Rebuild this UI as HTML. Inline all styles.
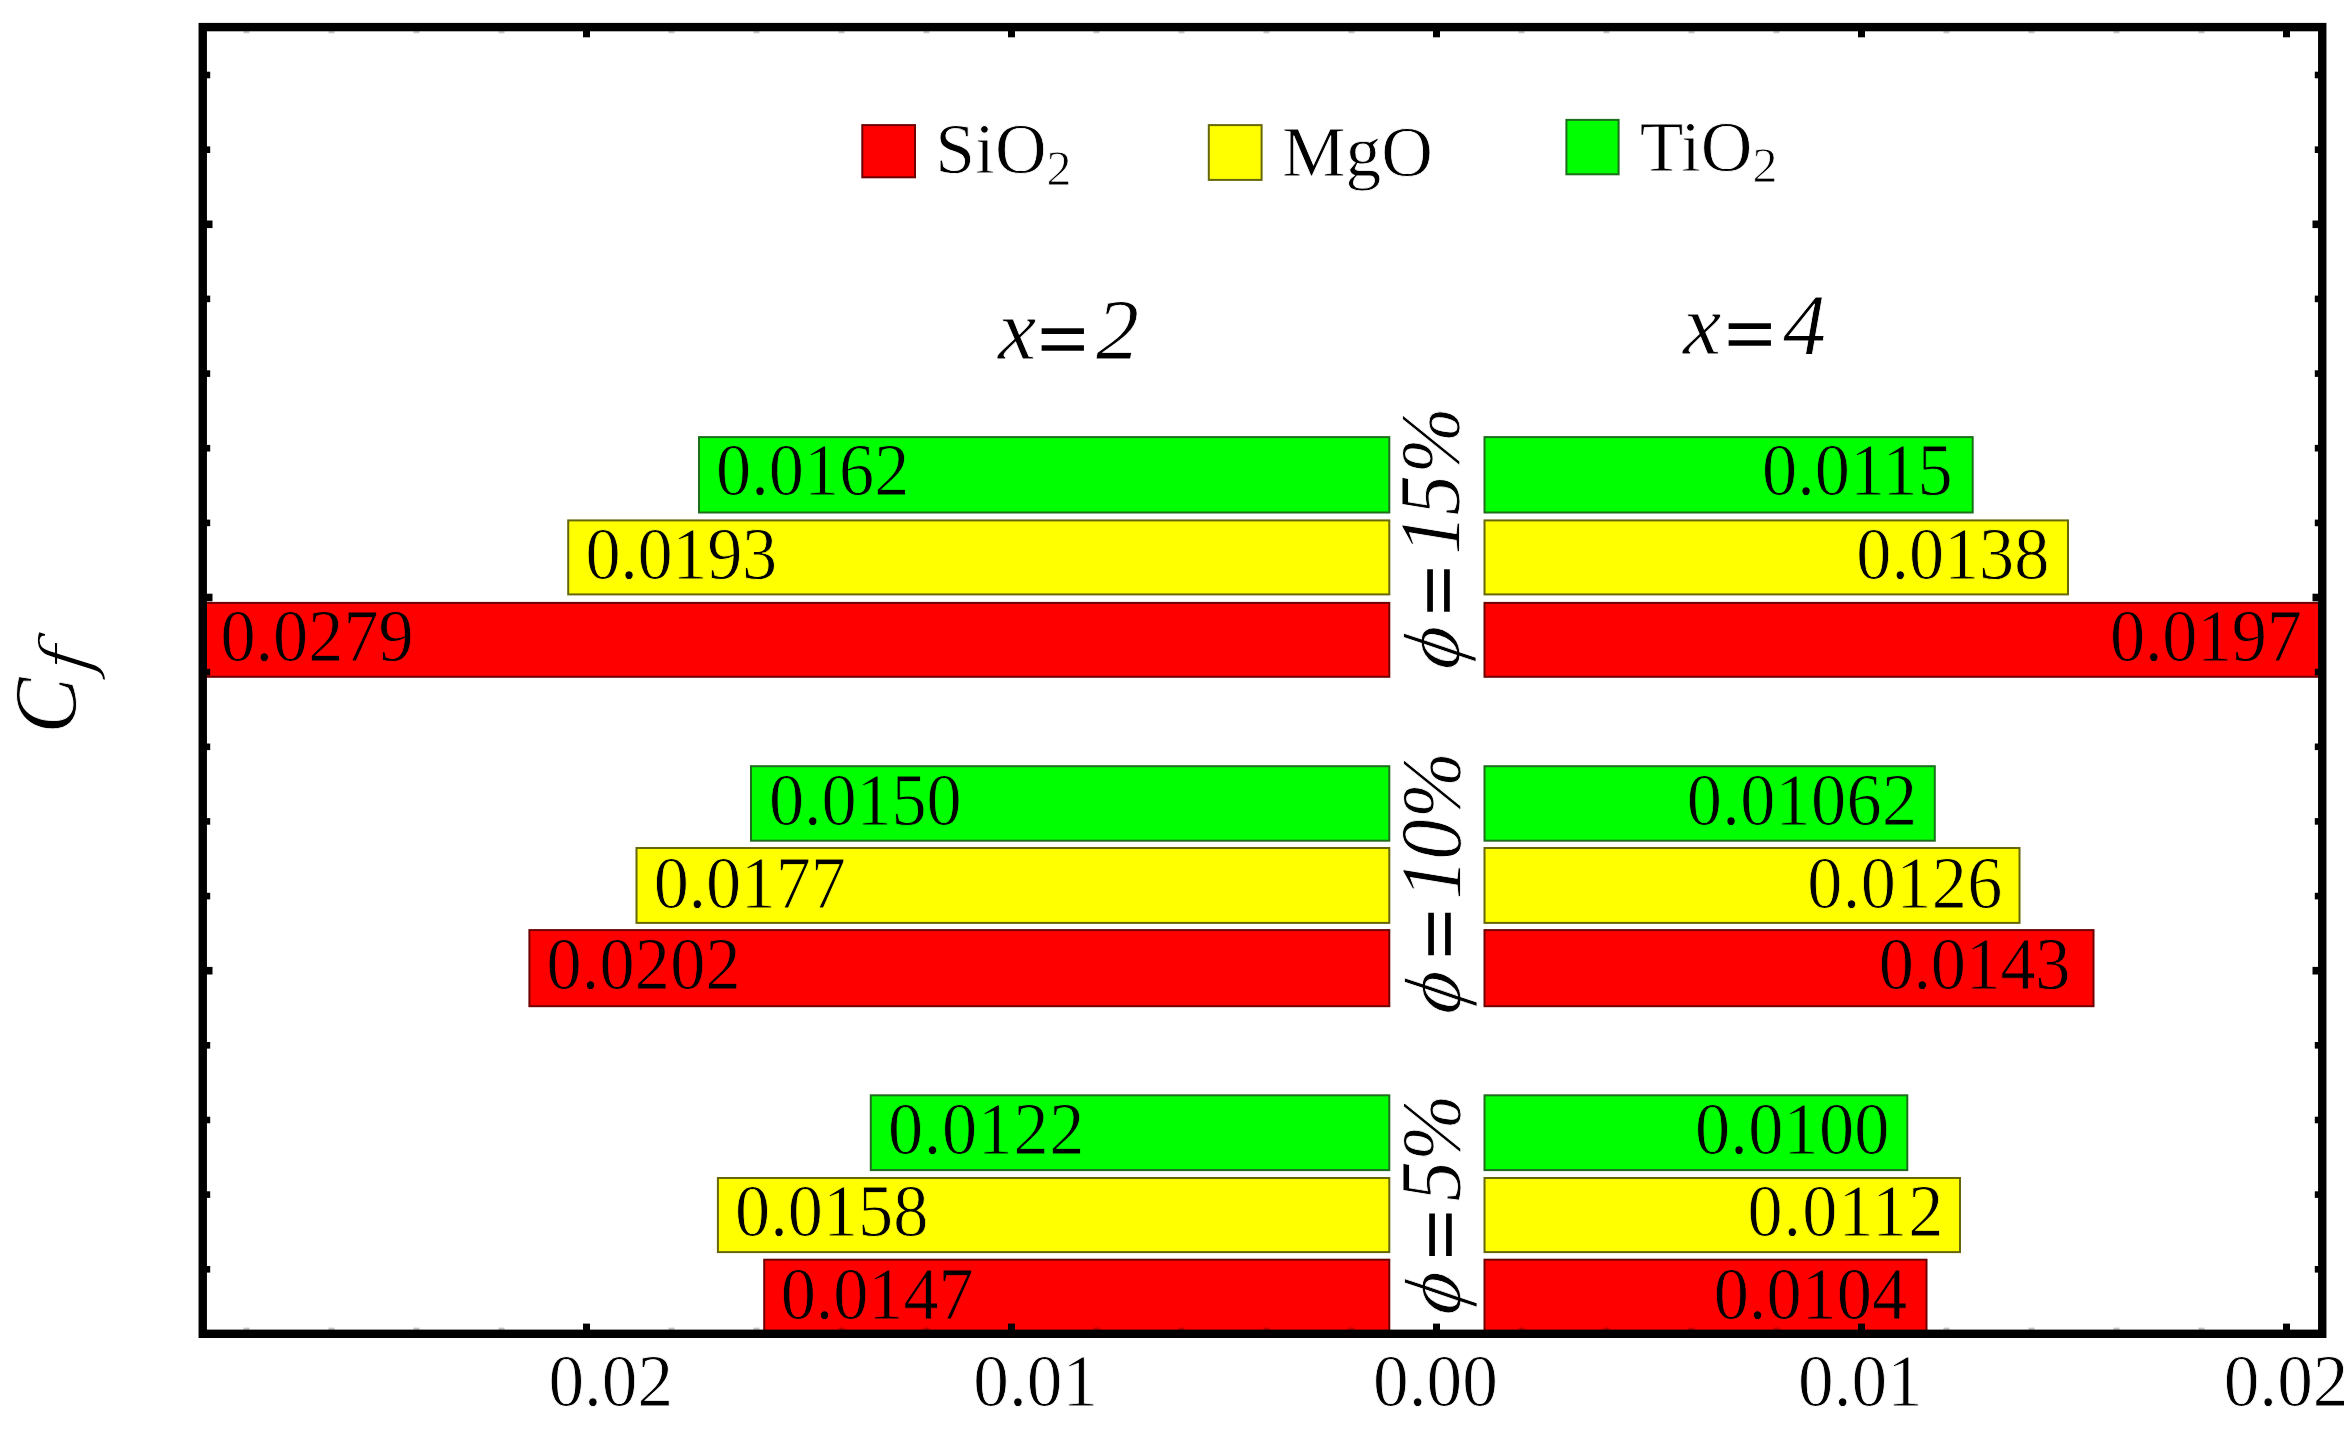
<!DOCTYPE html>
<html lang="en"><head><meta charset="utf-8"><title>Skin friction coefficient chart</title>
<style>
html,body{margin:0;padding:0;background:#fff;}
body{width:2344px;height:1432px;overflow:hidden;}
svg{display:block;}
text{font-family:"Liberation Serif","DejaVu Serif",serif;fill:#000;}
.n{font-size:70.3px;}
.i{font-style:italic;}
.w{stroke:#fff;stroke-width:0.8px;}
</style></head><body>
<svg width="2344" height="1432" viewBox="0 0 2344 1432">
<rect x="0" y="0" width="2344" height="1432" fill="#fff"/>
<defs><clipPath id="plot"><rect x="203" y="27" width="2119" height="1307"/></clipPath></defs>
<g clip-path="url(#plot)">
<rect x="699.0" y="437.1" width="690.3" height="75.4" fill="#00ff00" stroke="#1c6e1c" stroke-width="2.0"/>
<rect x="1484.5" y="437.1" width="488.2" height="75.4" fill="#00ff00" stroke="#1c6e1c" stroke-width="2.0"/>
<rect x="568.2" y="520.4" width="821.1" height="74.0" fill="#ffff00" stroke="#66660a" stroke-width="2.0"/>
<rect x="1484.5" y="520.4" width="583.5" height="74.0" fill="#ffff00" stroke="#66660a" stroke-width="2.0"/>
<rect x="151.0" y="602.9" width="1238.3" height="73.9" fill="#ff0000" stroke="#6e0000" stroke-width="2.0"/>
<rect x="1484.5" y="602.9" width="914.5" height="73.9" fill="#ff0000" stroke="#6e0000" stroke-width="2.0"/>
<rect x="751.0" y="766.2" width="638.3" height="74.5" fill="#00ff00" stroke="#1c6e1c" stroke-width="2.0"/>
<rect x="1484.5" y="766.2" width="450.3" height="74.5" fill="#00ff00" stroke="#1c6e1c" stroke-width="2.0"/>
<rect x="636.5" y="848.0" width="752.8" height="74.9" fill="#ffff00" stroke="#66660a" stroke-width="2.0"/>
<rect x="1484.5" y="848.0" width="535.0" height="74.9" fill="#ffff00" stroke="#66660a" stroke-width="2.0"/>
<rect x="529.4" y="930.1" width="859.9" height="76.1" fill="#ff0000" stroke="#6e0000" stroke-width="2.0"/>
<rect x="1484.5" y="930.1" width="609.0" height="76.1" fill="#ff0000" stroke="#6e0000" stroke-width="2.0"/>
<rect x="870.8" y="1095.3" width="518.5" height="74.8" fill="#00ff00" stroke="#1c6e1c" stroke-width="2.0"/>
<rect x="1484.5" y="1095.3" width="422.8" height="74.8" fill="#00ff00" stroke="#1c6e1c" stroke-width="2.0"/>
<rect x="717.9" y="1178.0" width="671.4" height="74.1" fill="#ffff00" stroke="#66660a" stroke-width="2.0"/>
<rect x="1484.5" y="1178.0" width="475.5" height="74.1" fill="#ffff00" stroke="#66660a" stroke-width="2.0"/>
<rect x="764.2" y="1259.7" width="625.1" height="75.0" fill="#ff0000" stroke="#6e0000" stroke-width="2.0"/>
<rect x="1484.5" y="1259.7" width="442.0" height="75.0" fill="#ff0000" stroke="#6e0000" stroke-width="2.0"/>
</g>
<text class="n" transform="translate(716.1 495.4) scale(1 1.045)" textLength="193.3" stroke="#00ff00" stroke-width="0.8">0.0162</text>
<text class="n" transform="translate(1952.7 495.4) scale(1 1.045)" text-anchor="end" stroke="#00ff00" stroke-width="0.8">0.0115</text>
<text class="n" transform="translate(585.4 579.4) scale(1 1.045)" textLength="191.7" stroke="#ffff00" stroke-width="0.8">0.0193</text>
<text class="n" transform="translate(2049.3 579.4) scale(1 1.045)" text-anchor="end" textLength="193.0" stroke="#ffff00" stroke-width="0.8">0.0138</text>
<text class="n" transform="translate(220.4 661.2) scale(1 1.045)" stroke="#ff0000" stroke-width="0.8">0.0279</text>
<text class="n" transform="translate(2301.8 661.2) scale(1 1.045)" text-anchor="end" textLength="191.7" stroke="#ff0000" stroke-width="0.8">0.0197</text>
<text class="n" transform="translate(768.9 825.2) scale(1 1.045)" textLength="192.8" stroke="#00ff00" stroke-width="0.8">0.0150</text>
<text class="n" transform="translate(1917.1 825.2) scale(1 1.045)" text-anchor="end" textLength="230.3" stroke="#00ff00" stroke-width="0.8">0.01062</text>
<text class="n" transform="translate(653.7 907.8) scale(1 1.045)" textLength="192.1" stroke="#ffff00" stroke-width="0.8">0.0177</text>
<text class="n" transform="translate(2002.3 907.8) scale(1 1.045)" text-anchor="end" textLength="195.0" stroke="#ffff00" stroke-width="0.8">0.0126</text>
<text class="n" transform="translate(546.4 989.2) scale(1 1.045)" textLength="194.2" stroke="#ff0000" stroke-width="0.8">0.0202</text>
<text class="n" transform="translate(2070.5 989.2) scale(1 1.045)" text-anchor="end" textLength="191.8" stroke="#ff0000" stroke-width="0.8">0.0143</text>
<text class="n" transform="translate(888.1 1153.7) scale(1 1.045)" textLength="196.2" stroke="#00ff00" stroke-width="0.8">0.0122</text>
<text class="n" transform="translate(1889.5 1153.7) scale(1 1.045)" text-anchor="end" textLength="194.6" stroke="#00ff00" stroke-width="0.8">0.0100</text>
<text class="n" transform="translate(735.1 1236.4) scale(1 1.045)" textLength="193.3" stroke="#ffff00" stroke-width="0.8">0.0158</text>
<text class="n" transform="translate(1943.3 1236.4) scale(1 1.045)" text-anchor="end" textLength="195.9" stroke="#ffff00" stroke-width="0.8">0.0112</text>
<text class="n" transform="translate(780.8 1318.9) scale(1 1.045)" textLength="192.8" stroke="#ff0000" stroke-width="0.8">0.0147</text>
<text class="n" transform="translate(1907.1 1318.9) scale(1 1.045)" text-anchor="end" textLength="193.4" stroke="#ff0000" stroke-width="0.8">0.0104</text>
<rect x="202.75" y="27.1" width="2119.5" height="1306.7" fill="none" stroke="#000" stroke-width="8.4"/>
<rect x="243.5" y="1327.6" width="6" height="3" fill="#000" opacity="0.22"/>
<rect x="243.5" y="30.3" width="6" height="3" fill="#000" opacity="0.22"/>
<rect x="328.5" y="1327.6" width="6" height="3" fill="#000" opacity="0.22"/>
<rect x="328.5" y="30.3" width="6" height="3" fill="#000" opacity="0.22"/>
<rect x="413.5" y="1327.6" width="6" height="3" fill="#000" opacity="0.22"/>
<rect x="413.5" y="30.3" width="6" height="3" fill="#000" opacity="0.22"/>
<rect x="498.5" y="1327.6" width="6" height="3" fill="#000" opacity="0.22"/>
<rect x="498.5" y="30.3" width="6" height="3" fill="#000" opacity="0.22"/>
<rect x="583.0" y="1323.6" width="7" height="7" fill="#000" opacity="1"/>
<rect x="583.0" y="30.3" width="7" height="7" fill="#000" opacity="1"/>
<rect x="668.5" y="1327.6" width="6" height="3" fill="#000" opacity="0.22"/>
<rect x="668.5" y="30.3" width="6" height="3" fill="#000" opacity="0.22"/>
<rect x="753.5" y="1327.6" width="6" height="3" fill="#000" opacity="0.22"/>
<rect x="753.5" y="30.3" width="6" height="3" fill="#000" opacity="0.22"/>
<rect x="838.5" y="1327.6" width="6" height="3" fill="#000" opacity="0.22"/>
<rect x="838.5" y="30.3" width="6" height="3" fill="#000" opacity="0.22"/>
<rect x="923.5" y="1327.6" width="6" height="3" fill="#000" opacity="0.22"/>
<rect x="923.5" y="30.3" width="6" height="3" fill="#000" opacity="0.22"/>
<rect x="1008.0" y="1323.6" width="7" height="7" fill="#000" opacity="1"/>
<rect x="1008.0" y="30.3" width="7" height="7" fill="#000" opacity="1"/>
<rect x="1093.5" y="1327.6" width="6" height="3" fill="#000" opacity="0.22"/>
<rect x="1093.5" y="30.3" width="6" height="3" fill="#000" opacity="0.22"/>
<rect x="1178.5" y="1327.6" width="6" height="3" fill="#000" opacity="0.22"/>
<rect x="1178.5" y="30.3" width="6" height="3" fill="#000" opacity="0.22"/>
<rect x="1263.5" y="1327.6" width="6" height="3" fill="#000" opacity="0.22"/>
<rect x="1263.5" y="30.3" width="6" height="3" fill="#000" opacity="0.22"/>
<rect x="1348.5" y="1327.6" width="6" height="3" fill="#000" opacity="0.22"/>
<rect x="1348.5" y="30.3" width="6" height="3" fill="#000" opacity="0.22"/>
<rect x="1433.0" y="1323.6" width="7" height="7" fill="#000" opacity="1"/>
<rect x="1433.0" y="30.3" width="7" height="7" fill="#000" opacity="1"/>
<rect x="1518.5" y="1327.6" width="6" height="3" fill="#000" opacity="0.22"/>
<rect x="1518.5" y="30.3" width="6" height="3" fill="#000" opacity="0.22"/>
<rect x="1603.5" y="1327.6" width="6" height="3" fill="#000" opacity="0.22"/>
<rect x="1603.5" y="30.3" width="6" height="3" fill="#000" opacity="0.22"/>
<rect x="1688.5" y="1327.6" width="6" height="3" fill="#000" opacity="0.22"/>
<rect x="1688.5" y="30.3" width="6" height="3" fill="#000" opacity="0.22"/>
<rect x="1773.5" y="1327.6" width="6" height="3" fill="#000" opacity="0.22"/>
<rect x="1773.5" y="30.3" width="6" height="3" fill="#000" opacity="0.22"/>
<rect x="1858.0" y="1323.6" width="7" height="7" fill="#000" opacity="1"/>
<rect x="1858.0" y="30.3" width="7" height="7" fill="#000" opacity="1"/>
<rect x="1943.5" y="1327.6" width="6" height="3" fill="#000" opacity="0.22"/>
<rect x="1943.5" y="30.3" width="6" height="3" fill="#000" opacity="0.22"/>
<rect x="2028.5" y="1327.6" width="6" height="3" fill="#000" opacity="0.22"/>
<rect x="2028.5" y="30.3" width="6" height="3" fill="#000" opacity="0.22"/>
<rect x="2113.5" y="1327.6" width="6" height="3" fill="#000" opacity="0.22"/>
<rect x="2113.5" y="30.3" width="6" height="3" fill="#000" opacity="0.22"/>
<rect x="2198.5" y="1327.6" width="6" height="3" fill="#000" opacity="0.22"/>
<rect x="2198.5" y="30.3" width="6" height="3" fill="#000" opacity="0.22"/>
<rect x="2283.0" y="1323.6" width="7" height="7" fill="#000" opacity="1"/>
<rect x="2283.0" y="30.3" width="7" height="7" fill="#000" opacity="1"/>
<rect x="206.0" y="71.7" width="4.2" height="6.6" fill="#000"/>
<rect x="2314.8" y="71.7" width="4.2" height="6.6" fill="#000"/>
<rect x="206.0" y="146.4" width="4.2" height="6.6" fill="#000"/>
<rect x="2314.8" y="146.4" width="4.2" height="6.6" fill="#000"/>
<rect x="206.0" y="220.5" width="6.5" height="7.6" fill="#000"/>
<rect x="2312.5" y="220.5" width="6.5" height="7.6" fill="#000"/>
<rect x="206.0" y="295.6" width="4.2" height="6.6" fill="#000"/>
<rect x="2314.8" y="295.6" width="4.2" height="6.6" fill="#000"/>
<rect x="206.0" y="370.3" width="4.2" height="6.6" fill="#000"/>
<rect x="2314.8" y="370.3" width="4.2" height="6.6" fill="#000"/>
<rect x="206.0" y="444.9" width="4.2" height="6.6" fill="#000"/>
<rect x="2314.8" y="444.9" width="4.2" height="6.6" fill="#000"/>
<rect x="206.0" y="519.6" width="4.2" height="6.6" fill="#000"/>
<rect x="2314.8" y="519.6" width="4.2" height="6.6" fill="#000"/>
<rect x="206.0" y="593.7" width="6.5" height="7.6" fill="#000"/>
<rect x="2312.5" y="593.7" width="6.5" height="7.6" fill="#000"/>
<rect x="206.0" y="668.8" width="4.2" height="6.6" fill="#000"/>
<rect x="2314.8" y="668.8" width="4.2" height="6.6" fill="#000"/>
<rect x="206.0" y="743.5" width="4.2" height="6.6" fill="#000"/>
<rect x="2314.8" y="743.5" width="4.2" height="6.6" fill="#000"/>
<rect x="206.0" y="818.1" width="4.2" height="6.6" fill="#000"/>
<rect x="2314.8" y="818.1" width="4.2" height="6.6" fill="#000"/>
<rect x="206.0" y="892.8" width="4.2" height="6.6" fill="#000"/>
<rect x="2314.8" y="892.8" width="4.2" height="6.6" fill="#000"/>
<rect x="206.0" y="966.9" width="6.5" height="7.6" fill="#000"/>
<rect x="2312.5" y="966.9" width="6.5" height="7.6" fill="#000"/>
<rect x="206.0" y="1042.0" width="4.2" height="6.6" fill="#000"/>
<rect x="2314.8" y="1042.0" width="4.2" height="6.6" fill="#000"/>
<rect x="206.0" y="1116.7" width="4.2" height="6.6" fill="#000"/>
<rect x="2314.8" y="1116.7" width="4.2" height="6.6" fill="#000"/>
<rect x="206.0" y="1191.3" width="4.2" height="6.6" fill="#000"/>
<rect x="2314.8" y="1191.3" width="4.2" height="6.6" fill="#000"/>
<rect x="206.0" y="1266.0" width="4.2" height="6.6" fill="#000"/>
<rect x="2314.8" y="1266.0" width="4.2" height="6.6" fill="#000"/>
<text class="w" transform="translate(548.4 1406.2) scale(1 1.045)" font-size="71.3">0.02</text>
<text class="w" transform="translate(973.3 1406.2) scale(1 1.045)" font-size="71.3">0.01</text>
<text class="w" transform="translate(1373.1 1406.2) scale(1 1.045)" font-size="71.3">0.00</text>
<text class="w" transform="translate(1798.0 1406.2) scale(1 1.045)" font-size="71.3">0.01</text>
<text class="w" transform="translate(2223.7 1406.2) scale(1 1.045)" font-size="71.3">0.02</text>
<rect x="862.3" y="125.1" width="52.7" height="52.2" fill="#ff0000" stroke="#6e0000" stroke-width="2"/>
<rect x="1208.8" y="125.1" width="52.8" height="54.8" fill="#ffff00" stroke="#66660a" stroke-width="2"/>
<rect x="1566.4" y="119.9" width="52.2" height="54.4" fill="#00ff00" stroke="#1c6e1c" stroke-width="2"/>
<text class="w" x="935.3" y="173.4" font-size="71.5">SiO<tspan dy="11.1" font-size="50">2</tspan></text>
<text class="w" x="1282.0" y="175.8" font-size="71.5">MgO</text>
<text class="w" x="1639.8" y="170.8" font-size="71.5">TiO<tspan dy="10.7" font-size="50">2</tspan></text>
<text class="i w" font-size="86" y="358.7"><tspan x="998.1">x</tspan><tspan x="1032.5" dy="8.00" font-size="82" textLength="59.0" lengthAdjust="spacingAndGlyphs" stroke="#000" stroke-width="1.5">=</tspan><tspan x="1096.0" dy="-8.0">2</tspan></text>
<text class="i w" font-size="86" y="353.5"><tspan x="1682.9">x</tspan><tspan x="1719.6" dy="8.00" font-size="82" textLength="59.0" lengthAdjust="spacingAndGlyphs" stroke="#000" stroke-width="1.5">=</tspan><tspan x="1783.1" dy="-8.0">4</tspan></text>
<text class="i w" font-size="80" transform="translate(1458.6 671.3) rotate(-90) skewX(-9)">ϕ</text>
<text class="i w" transform="translate(1458.6 620.7) rotate(-90) scale(1 1.065)"><tspan x="0.0" dy="7.35" font-size="77" textLength="59.0" lengthAdjust="spacingAndGlyphs" stroke="#000" stroke-width="1.5">=</tspan><tspan x="66.0" dy="-7.35" font-size="81">1</tspan><tspan x="105.3" dy="0.00" font-size="81">5</tspan><tspan x="147.1" dy="0.00" font-size="79.5">%</tspan></text>
<text class="i w" font-size="80" transform="translate(1459.6 1016.0) rotate(-90) skewX(-9)">ϕ</text>
<text class="i w" transform="translate(1459.6 964.3) rotate(-90) scale(1 1.065)"><tspan x="0.0" dy="7.35" font-size="77" textLength="59.0" lengthAdjust="spacingAndGlyphs" stroke="#000" stroke-width="1.5">=</tspan><tspan x="64.9" dy="-7.35" font-size="81">1</tspan><tspan x="104.5" dy="0.00" font-size="81">0</tspan><tspan x="146.0" dy="0.00" font-size="79.5">%</tspan></text>
<text class="i w" font-size="80" transform="translate(1459.8 1316.7) rotate(-90) skewX(-9)">ϕ</text>
<text class="i w" transform="translate(1459.8 1265.0) rotate(-90) scale(1 1.065)"><tspan x="0.0" dy="7.35" font-size="77" textLength="59.0" lengthAdjust="spacingAndGlyphs" stroke="#000" stroke-width="1.5">=</tspan><tspan x="63.4" dy="-7.35" font-size="81">5</tspan><tspan x="104.2" dy="0.00" font-size="79.5">%</tspan></text>
<text class="i w" font-size="84" transform="translate(74.8 733.4) rotate(-90) scale(1 1.055)">C</text>
<text class="i" style="font-family:'DejaVu Serif','Liberation Serif',serif" font-size="71" stroke="#fff" stroke-width="1.6" transform="translate(91.2 674.6) rotate(-90) skewX(-7)">f</text>
</svg>
</body></html>
